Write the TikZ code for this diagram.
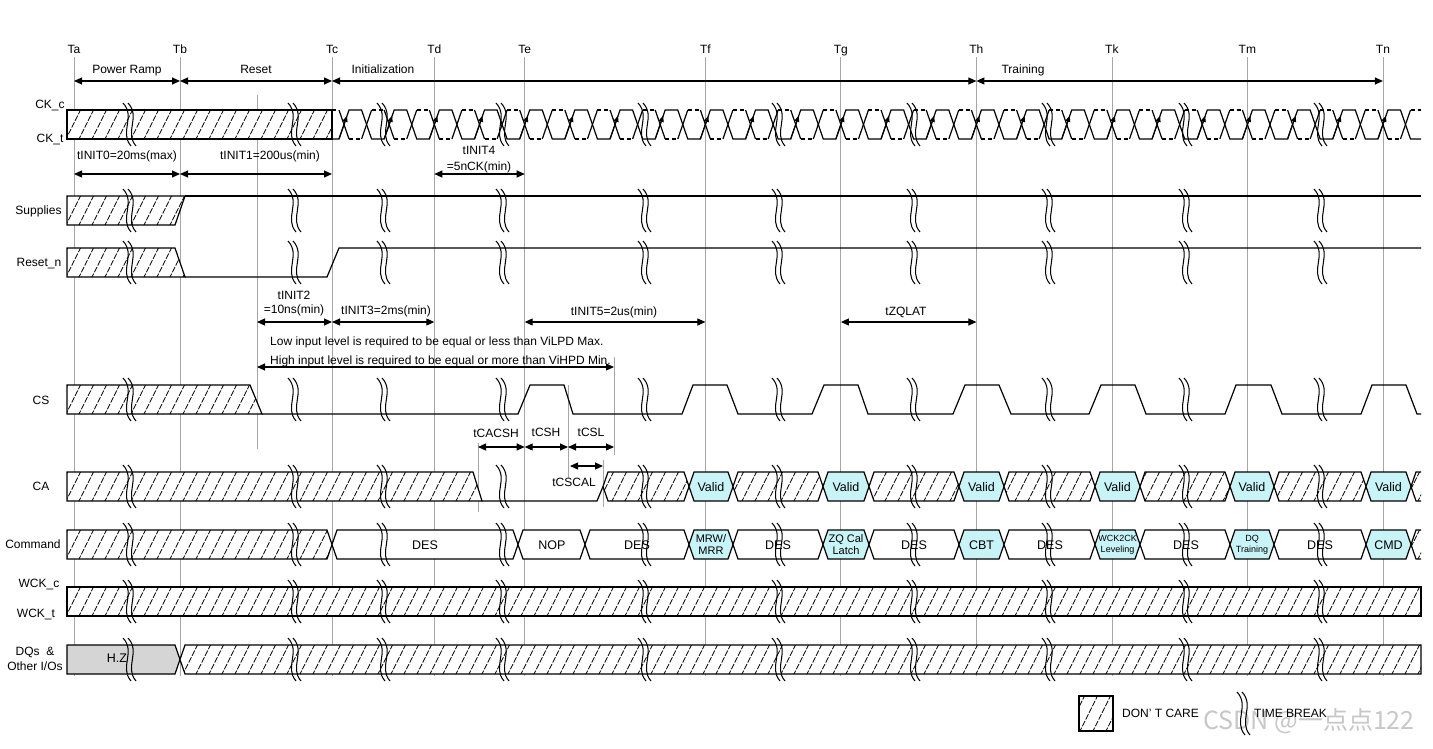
\documentclass[tikz,border=0pt]{standalone}
\usepackage{fontspec}
\setmainfont{Liberation Sans}
\newfontfamily\cjkfont{Noto Sans CJK SC}
\usetikzlibrary{arrows.meta}
\definecolor{vcyan}{HTML}{C8F4F8}
\definecolor{hzgray}{HTML}{D5D5D5}
\definecolor{tline}{HTML}{A6A6A6}

% #1 path, #2 ytop, #3 ybot, #4 xmin, #5 xmax, #6 fill
\newcommand\hatchshape[6]{%
  \fill[#6] #1;
  \begin{scope}
    \clip #1;
    \pgfmathtruncatemacro\hn{(#5-#4+60)/13}%
    \pgfmathtruncatemacro\hs{13*floor((#4-30)/13)}%
    \foreach \hi in {0,...,\hn}{%
      \draw[hatchln] ({\hs+13*\hi},#3+2) -- ++({0.5*(#3-#2+4)},{-(#3-#2+4)});
    }
  \end{scope}
  \draw[sig] #1;
}
% hatched bus segment: x1, x2, ytop
\newcommand\hexhatch[3]{\hatchshape{(#1,#3+14.5) -- (#1+5,#3) -- (#2-5,#3) -- (#2,#3+14.5) -- (#2-5,#3+29) -- (#1+5,#3+29) -- cycle}{#3}{#3+29}{#1}{#2}{white}}
% filled bus segment: x1, x2, ytop, colour
\newcommand\hexfill[4]{\draw[sig,fill=#4] (#1,#3+14.5) -- (#1+5,#3) -- (#2-5,#3) -- (#2,#3+14.5) -- (#2-5,#3+29) -- (#1+5,#3+29) -- cycle;}
% time break: x, ytop (height 43)
\newcommand\tbrk[2]{%
  \draw[brk] (#1-6,#2) .. controls (#1+7,#2+14) and (#1-10,#2+29) .. (#1+2,#2+43);
  \draw[brk] (#1-1,#2) .. controls (#1+12,#2+14) and (#1-5,#2+29) .. (#1+7,#2+43);
}

\begin{document}
\begin{tikzpicture}[x=1pt,y=-1pt,
  sig/.style={line width=1.2pt, line join=miter},
  hatchln/.style={line width=0.8pt, dash pattern=on 6pt off 1.5pt},
  tln/.style={draw=tline, line width=0.8pt},
  brk/.style={line width=1.05pt},
  dimarr/.style={line width=1.1pt, {Triangle[length=8pt,width=7pt]}-{Triangle[length=8pt,width=7pt]}},
  lbl/.style={font=\fontsize{12}{14}\selectfont, inner sep=0pt, text height=8.6pt, text depth=0pt},
  bustxt/.style={font=\fontsize{12.5}{14}\selectfont, inner sep=0pt, text height=9pt, text depth=0pt},
  midtxt/.style={font=\fontsize{11}{12.5}\selectfont, inner sep=0pt, align=center},
  smtxt/.style={font=\fontsize{9}{11}\selectfont, inner sep=0pt, align=center},
]
\fill[white] (0,0) rectangle (1433,748);
\useasboundingbox (0,0) rectangle (1433,748);

% ---------- vertical reference lines ----------
\foreach \x in {74,180,332,434.34,524.68,705.36,840.87,976.38,1111.89,1247.4,1382.91}
  \draw[tln] (\x,57) -- (\x,676);
\draw[tln] (257,95) -- (257,449);
\draw[tln] (478,443) -- (478,512);
\draw[tln] (568,385) -- (568,478);
\draw[tln] (614,357) -- (614,455);
\draw[tln] (603,460) -- (603,507);

% ---------- T labels ----------
\foreach \n/\x in {Ta/74,Tb/180,Tc/332,Td/434.34,Te/524.68,Tf/705.36,Tg/840.87,Th/976.38,Tk/1111.89,Tm/1247.4,Tn/1382.91}
  \node[lbl] (lab\n) at (\x,49) {\n};

% ---------- phase arrows ----------
\node[lbl] (pr) at (127,69) {Power Ramp};
\node[lbl] (rs) at (256,69) {Reset};
\node[lbl] (ini) at (383,69) {Initialization};
\node[lbl] (trn) at (1023,69) {Training};
\coordinate (pA) at (74,81);
\coordinate (pB) at (180,81);
\coordinate (pC) at (332,81);
\coordinate (pH) at (976.4,81);
\coordinate (pN) at (1382.9,81);
\draw[dimarr] (pA) -- (pB);
\draw[dimarr] (pB) -- (pC);
\draw[dimarr] (pC) -- (pH);
\draw[dimarr] (pH) -- (pN);

% ---------- signal names ----------
\node[lbl] (lckc) at (50,104) {CK\_c};
\node[lbl] (lckt) at (50,138) {CK\_t};
\node[lbl] (lsup) at (38.5,210) {Supplies};
\node[lbl] (lrst) at (39,262) {Reset\_n};
\node[lbl] (lcs) at (41,400) {CS};
\node[lbl] (lca) at (41,486) {CA};
\node[lbl] (lcmd) at (33,544) {Command};
\node[lbl] (lwc) at (39,583) {WCK\_c};
\node[lbl] (lwt) at (36,613) {WCK\_t};
\node[lbl] (ldq1) at (35,651) {DQs\ \ \&};
\node[lbl] (ldq2) at (35,666) {Other I/Os};

% ---------- CK ----------
\hatchshape{(67,110) rectangle (332,139)}{110}{139}{67}{332}{white}
\draw[sig] (332,139) foreach \k in {0,...,23}{ -- ({344+45.17*\k-5},139) -- ({344+45.17*\k+5},110) -- ({344+45.17*\k+17.58},110) -- ({344+45.17*\k+27.58},139)} -- (1421,139);
\draw[sig, dash pattern=on 4pt off 3pt] (332,110) -- (339,110);
\foreach \k in {0,...,23}{
  \draw[sig] ({344+45.17*\k-5},110) -- ({344+45.17*\k+5},139);
  \draw[sig] ({344+45.17*\k+17.58},139) -- ({344+45.17*\k+27.58},110);
  \draw[sig, dash pattern=on 4pt off 3pt] ({344+45.17*\k+5},139) -- ({344+45.17*\k+17.58},139);
  \draw[sig, dash pattern=on 4pt off 3pt] ({344+45.17*\k+27.58},110) -- ({min(344+45.17*\k+40.17,1421)},110);
  \draw[line width=1.1pt, -{Triangle[length=6pt,width=5pt]}] ({344+45.17*\k-5},139) -- ({344+45.17*\k+3},115.8);
}

% ---------- timing labels (top) ----------
\node[lbl] (ti0) at (127,155) {tINIT0=20ms(max)};
\node[lbl] (ti1) at (270,155) {tINIT1=200us(min)};
\node[lbl] (ti4a) at (479,150) {tINIT4};
\node[lbl] (ti4b) at (479,166) {=5nCK(min)};
\coordinate (a0) at (74,174);
\coordinate (a1) at (180,174);
\coordinate (a2) at (332,174);
\coordinate (a3) at (434.3,174);
\coordinate (a4) at (524.7,174);
\draw[dimarr] (a0) -- (a1);
\draw[dimarr] (a1) -- (a2);
\draw[dimarr] (a3) -- (a4);

% ---------- Supplies ----------
\hatchshape{(67,196) -- (185,196) -- (175,225) -- (67,225) -- cycle}{196}{225}{67}{185}{white}
\draw[sig] (185,196) -- (1421,196);

% ---------- Reset_n ----------
\hatchshape{(67,248) -- (175,248) -- (185,277) -- (67,277) -- cycle}{248}{277}{67}{185}{white}
\draw[sig] (185,277) -- (327,277) -- (339,248) -- (1421,248);

% ---------- middle timing labels ----------
\node[lbl] (ti2a) at (294,295) {tINIT2};
\node[lbl] (ti2b) at (294,309) {=10ns(min)};
\node[lbl] (ti3) at (386,310) {tINIT3=2ms(min)};
\node[lbl] (ti5) at (614,311) {tINIT5=2us(min)};
\node[lbl] (tzq) at (906,311) {tZQLAT};
\coordinate (b0) at (257,322);
\coordinate (b1) at (332,322);
\coordinate (b2) at (434.3,322);
\coordinate (b3) at (524.7,322);
\coordinate (b4) at (705.4,322);
\coordinate (b5) at (840.9,322);
\coordinate (b6) at (976.4,322);
\draw[dimarr] (b0) -- (b1);
\draw[dimarr] (b1) -- (b2);
\draw[dimarr] (b3) -- (b4);
\draw[dimarr] (b5) -- (b6);
\node[lbl, anchor=west] (low) at (270,341) {Low input level is required to be equal or less than ViLPD Max.};
\node[lbl, anchor=west] (high) at (270,360) {High input level is required to be equal or more than ViHPD Min.};
\coordinate (c0) at (257,367);
\coordinate (c1) at (614,367);
\draw[dimarr] (c0) -- (c1);

% ---------- CS ----------
\hatchshape{(67,385) -- (250,385) -- (262,414) -- (67,414) -- cycle}{385}{414}{67}{262}{white}
\draw[sig] (262,414) -- (518,414) -- (530,385) -- (564,385) -- (573,414) -- (682,414) -- (693,385) -- (727,385) -- (738,414) -- (812,414) -- (824,385) -- (858,385) -- (868,414) -- (953,414) -- (965,385) -- (999,385) -- (1011,414) -- (1089,414) -- (1101,385) -- (1135,385) -- (1146,414) -- (1225,414) -- (1236,385) -- (1271,385) -- (1282,414) -- (1361,414) -- (1372,385) -- (1406,385) -- (1417,414) -- (1421,414);

\node[lbl] (tcacsh) at (496,433) {tCACSH};
\node[lbl] (tcsh) at (546,432) {tCSH};
\node[lbl] (tcsl) at (591,432) {tCSL};
\coordinate (d0) at (478,447);
\coordinate (d1) at (524.7,447);
\coordinate (d2) at (568,447);
\coordinate (d3) at (614,447);
\draw[dimarr] (d0) -- (d1);
\draw[dimarr] (d1) -- (d2);
\draw[dimarr] (d2) -- (d3);
\coordinate (e0) at (570,466);
\coordinate (e1) at (603,466);
\draw[dimarr] (e0) -- (e1);
\node[lbl] (tcscal) at (574,482) {tCSCAL};

% ---------- CA ----------
\hatchshape{(67,472) -- (473,472) -- (482,501) -- (67,501) -- cycle}{472}{501}{67}{482}{white}
\draw[sig] (482,501) -- (597,501) -- (603,486.5);
\hexhatch{603}{689}{472}
\hexfill{689}{733}{472}{vcyan}
\hexhatch{733}{823}{472}
\hexfill{823}{869}{472}{vcyan}
\hexhatch{869}{959}{472}
\hexfill{959}{1004}{472}{vcyan}
\hexhatch{1004}{1095}{472}
\hexfill{1095}{1140}{472}{vcyan}
\hexhatch{1140}{1230}{472}
\hexfill{1230}{1274}{472}{vcyan}
\hexhatch{1274}{1366}{472}
\hexfill{1366}{1411}{472}{vcyan}
\begin{scope}
  \clip (1411,486.5) -- (1416,472) -- (1421,472) -- (1421,501) -- (1416,501) -- cycle;
  \foreach \hx in {1391,1404,1417} \draw[hatchln] (\hx,503) -- ++(16.5,-33);
\end{scope}
\draw[sig] (1421,472) -- (1416,472) -- (1411,486.5) -- (1416,501) -- (1421,501);
\foreach \x/\n in {711/1,846/2,981.5/3,1117.5/4,1252/5,1388.5/6}
  \node[bustxt] (val\n) at (\x,486.5) {Valid};

% ---------- Command ----------
\hatchshape{(67,530) -- (327,530) -- (332,544.5) -- (327,559) -- (67,559) -- cycle}{530}{559}{67}{332}{white}
\hexfill{332}{518}{530}{white}
\hexfill{518}{585}{530}{white}
\hexfill{585}{689}{530}{white}
\hexfill{689}{733}{530}{vcyan}
\hexfill{733}{823}{530}{white}
\hexfill{823}{869}{530}{vcyan}
\hexfill{869}{959}{530}{white}
\hexfill{959}{1004}{530}{vcyan}
\hexfill{1004}{1095}{530}{white}
\hexfill{1095}{1140}{530}{vcyan}
\hexfill{1140}{1230}{530}{white}
\hexfill{1230}{1274}{530}{vcyan}
\hexfill{1274}{1366}{530}{white}
\hexfill{1366}{1411}{530}{vcyan}
\begin{scope}
  \clip (1411,544.5) -- (1416,530) -- (1421,530) -- (1421,559) -- (1416,559) -- cycle;
  \foreach \hx in {1391,1404,1417} \draw[hatchln] (\hx,561) -- ++(16.5,-33);
\end{scope}
\draw[sig] (1421,530) -- (1416,530) -- (1411,544.5) -- (1416,559) -- (1421,559);
\node[bustxt] (cmd1) at (425,544.5) {DES};
\node[bustxt] (cmd2) at (552,544.5) {NOP};
\node[bustxt] (cmd3) at (637,544.5) {DES};
\node[midtxt] (cmd4) at (711,544.5) {MRW/\\MRR};
\node[bustxt] (cmd5) at (778,544.5) {DES};
\node[midtxt] (cmd6) at (846,544.5) {ZQ Cal\\Latch};
\node[bustxt] (cmd7) at (914,544.5) {DES};
\node[bustxt] (cmd8) at (981.5,544.5) {CBT};
\node[bustxt] (cmd9) at (1050,544.5) {DES};
\node[smtxt] (cmd10) at (1117.5,544.5) {WCK2CK\\Leveling};
\node[bustxt] (cmd11) at (1186,544.5) {DES};
\node[smtxt] (cmd12) at (1252,544.5) {DQ\\Training};
\node[bustxt] (cmd13) at (1320,544.5) {DES};
\node[bustxt] (cmd14) at (1388.5,544.5) {CMD};

% ---------- WCK ----------
\hatchshape{(67,587) rectangle (1421,616)}{587}{616}{67}{1421}{white}

% ---------- DQs ----------
\draw[sig,fill=hzgray] (67,645) -- (175,645) -- (180,659.5) -- (175,674) -- (67,674) -- cycle;
\hatchshape{(180,659.5) -- (185,645) -- (1421,645) -- (1421,674) -- (185,674) -- cycle}{645}{674}{180}{1421}{white}
\node[bustxt] (hz) at (117,658) {H.Z};

% ---------- time breaks ----------
\foreach \y in {103,189,241,378,465,523,580,638}
  \foreach \x in {129,294,383,502,644,778,913,1048,1185,1320}
    {\tbrk{\x}{\y}}

% ---------- legend ----------
\hatchshape{(1079,696) rectangle (1113,731)}{696}{731}{1079}{1113}{white}
\node[lbl, anchor=west] (ldc) at (1122,713) {DON’ T CARE};
\tbrk{1243}{692}
\node[lbl, anchor=west] (ltb) at (1254,713) {TIME BREAK};
\node[font=\cjkfont\fontsize{25}{28}\selectfont, text=black, opacity=0.22, inner sep=0pt] (wm) at (1309,721) {CSDN @一点点122};
\end{tikzpicture}
\end{document}
